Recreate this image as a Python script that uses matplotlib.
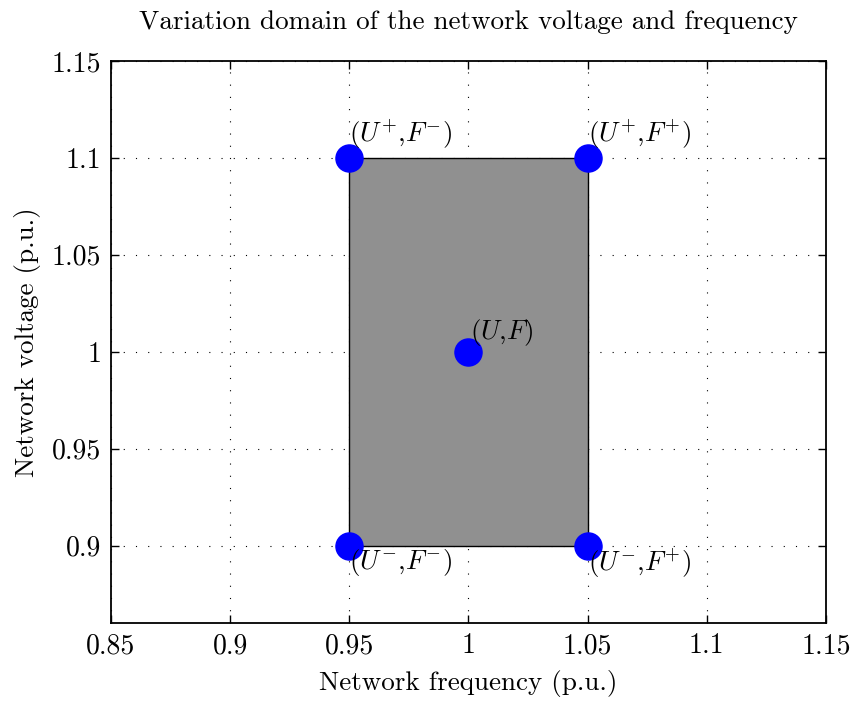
import matplotlib
matplotlib.use('Agg')
import matplotlib.pyplot as plt
from matplotlib.patches import Rectangle

# domaine de variation (p.u.)
f_min, f_max = 0.95, 1.05
u_min, u_max = 0.9, 1.1
f_nom, u_nom = 1.0, 1.0

# points et etiquettes
pts_f = [f_min, f_max, f_nom, f_min, f_max]
pts_u = [u_max, u_max, u_nom, u_min, u_min]
pts_lab = [r'$(U^{+}$,$F^{-})$', r'$(U^{+}$,$F^{+})$', r'$(U$,$F)$',
           r'$(U^{-}$,$F^{-})$', r'$(U^{-}$,$F^{+})$']

xticks = [0.85, 0.9, 0.95, 1.0, 1.05, 1.1, 1.15]
xticklabels = ['0.85', '0.9', '0.95', '1', '1.05', '1.1', '1.15']
yticks = [0.9, 0.95, 1.0, 1.05, 1.1, 1.15]
yticklabels = ['0.9', '0.95', '1', '1.05', '1.1', '1.15']

plt.rcParams['font.family'] = 'cmr10'
plt.rcParams['mathtext.fontset'] = 'cm'
plt.rcParams['axes.unicode_minus'] = False

fig = plt.figure(figsize=(8.51, 7.02), dpi=100)
ax = fig.add_axes([0.1304, 0.1125, 0.8402, 0.8006])

ax.add_patch(Rectangle((f_min, u_min), f_max - f_min, u_max - u_min,
                       facecolor='#909090', edgecolor='black', lw=1.0, zorder=2))
ax.plot(pts_f, pts_u, 'o', color='#0000ff', markersize=19.5, zorder=3, clip_on=False)

for f, u, lab in zip(pts_f, pts_u, pts_lab):
    if u == u_min:
        ax.annotate(lab, (f, u), xytext=(0, -1), textcoords='offset points',
                    ha='left', va='top', fontsize=19.5, zorder=4)
    elif u == u_max:
        ax.annotate(lab, (f, u), xytext=(0, 4), textcoords='offset points',
                    ha='left', va='bottom', fontsize=19.5, zorder=4)
    else:
        ax.annotate(lab, (f, u), xytext=(1, 3), textcoords='offset points',
                    ha='left', va='bottom', fontsize=19.5, zorder=4)

ax.set_xlim(0.85, 1.15)
ax.set_ylim(0.86, 1.15)
ax.set_xticks(xticks)
ax.set_xticklabels(xticklabels)
ax.set_yticks(yticks)
ax.set_yticklabels(yticklabels)
ax.tick_params(direction='in', top=True, right=True, length=6, width=1,
               labelsize=20, pad=7)
ax.set_axisbelow(True)
ax.grid(True, color='black', linestyle=(0, (1, 10)), linewidth=0.8)
for s in ax.spines.values():
    s.set_linewidth(1.3)

ax.set_xlabel('Network frequency (p.u.)', fontsize=19.5, labelpad=8)
ax.set_ylabel('Network voltage (p.u.)', fontsize=19.5, labelpad=8)
ax.set_title('Variation domain of the network voltage and frequency', fontsize=19.5, pad=23)

plt.savefig('out.png', dpi=100)
